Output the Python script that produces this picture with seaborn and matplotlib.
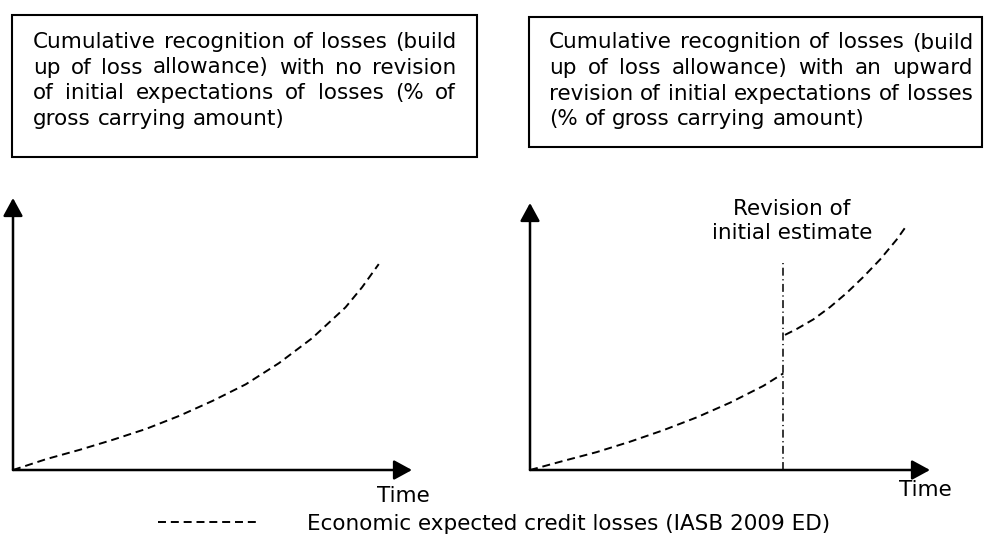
import matplotlib
matplotlib.use("Agg")
import matplotlib.pyplot as plt
import seaborn as sns
from matplotlib.patches import Rectangle

# --- Data ---
time_left = [0, 1, 2, 3, 4, 5, 6, 7, 8, 9, 10, 10.5, 11]
loss_left = [0, 0.4, 0.74, 1.11, 1.51, 1.99, 2.54, 3.15, 3.93, 4.85, 5.98, 6.72, 7.57]

time_before = [0, 1, 2, 3, 4, 5, 6, 7, 7.6]
loss_before = [0, 0.34, 0.67, 1.06, 1.49, 1.97, 2.52, 3.15, 3.62]
time_after = [7.65, 8, 8.5, 9, 9.5, 10, 10.5, 11, 11.25]
loss_after = [5.06, 5.28, 5.64, 6.1, 6.63, 7.23, 7.88, 8.63, 9.07]

revision_time = 7.6
revision_top = 7.74

box_left_lines = [
    "Cumulative recognition of losses (build",
    "up of loss allowance) with no revision",
    "of initial expectations of losses (% of",
    "gross carrying amount)",
]
box_right_lines = [
    "Cumulative recognition of losses (build",
    "up of loss allowance) with an upward",
    "revision of initial expectations of losses",
    "(% of gross carrying amount)",
]
revision_label = "Revision of\ninitial estimate"
x_label = "Time"
legend_label = "Economic expected credit losses (IASB 2009 ED)"

W, H = 984, 540
FS = 15.5
DASHED = (0, (4.1, 2.5))


def px(x, y):
    # pixel position (top-left origin) -> figure fraction
    return x / W, 1 - y / H


def draw_justified(fig, lines, x0, x1, baselines):
    renderer = fig.canvas.get_renderer()
    probe2 = fig.text(0, 0, "a a", fontsize=FS)
    probe1 = fig.text(0, 0, "aa", fontsize=FS)
    space = probe2.get_window_extent(renderer).width - probe1.get_window_extent(renderer).width
    probe1.remove()
    probe2.remove()
    for i, (line, yb) in enumerate(zip(lines, baselines)):
        words = line.split()
        texts = [fig.text(*px(x0, yb), w, fontsize=FS, va="baseline", ha="left") for w in words]
        widths = [t.get_window_extent(renderer).width for t in texts]
        if i == len(lines) - 1 or len(words) == 1:
            gap = space
        else:
            gap = (x1 - x0 - sum(widths)) / (len(words) - 1)
        x = x0
        for t, w in zip(texts, widths):
            t.set_x(x / W)
            x += w + gap


def arrow_axes(ax):
    ax.axis("off")
    props = dict(arrowstyle="-|>,head_length=0.55,head_width=0.3", mutation_scale=20,
                 lw=1.8, color="black", shrinkA=0, shrinkB=0)
    ax.annotate("", xy=(1, 0), xytext=(0, 0), xycoords="axes fraction", arrowprops=props)
    ax.annotate("", xy=(0, 1), xytext=(0, 0), xycoords="axes fraction", arrowprops=props)


sns.set_theme(style="white")
plt.rcParams["font.family"] = ["DejaVu Sans"]
plt.rcParams["text.color"] = "black"

fig = plt.figure(figsize=(W / 100, H / 100), dpi=100)
fig.patch.set_facecolor("white")

# panel axes: origin and arrow tips in pixels
ax_l = fig.add_axes([13 / W, 1 - 470 / H, 399 / W, 272 / H])
ax_r = fig.add_axes([530 / W, 1 - 470 / H, 400 / W, 267 / H])

sns.lineplot(x=time_left, y=loss_left, ax=ax_l, color="black", linewidth=1.4,
             linestyle=DASHED, label=legend_label, legend=False)
sns.lineplot(x=time_before, y=loss_before, ax=ax_r, color="black", linewidth=1.4,
             linestyle=DASHED, legend=False)
sns.lineplot(x=time_after, y=loss_after, ax=ax_r, color="black", linewidth=1.4,
             linestyle=DASHED, legend=False)
ax_r.plot([revision_time, revision_time], [0, revision_top], color="black",
          linewidth=1.1, linestyle=(0, (5.2, 2.3, 0.8, 2.3)))
for ax in (ax_l, ax_r):
    ax.set_xlim(0, 12)
    ax.set_ylim(0, 10)
    arrow_axes(ax)

fig.text(*px(403, 496), x_label, fontsize=FS, ha="center", va="center")
fig.text(*px(925, 490), x_label, fontsize=FS, ha="center", va="center")
fig.text(*px(792, 221), revision_label, fontsize=FS, ha="center", va="center",
         linespacing=1.2)

# text boxes
fig.patches.append(Rectangle(px(12, 157), 465 / W, 142 / H, transform=fig.transFigure,
                             fill=False, edgecolor="black", linewidth=1.5))
fig.patches.append(Rectangle(px(529, 147), 453 / W, 130 / H, transform=fig.transFigure,
                             fill=False, edgecolor="black", linewidth=1.5))
draw_justified(fig, box_left_lines, 33, 456, [48, 73.5, 99, 124.5])
draw_justified(fig, box_right_lines, 549, 973, [48.5, 74, 99.5, 125])

handle = ax_l.get_lines()[0]
fig.legend(handles=[handle], labels=[legend_label], loc="center left",
           bbox_to_anchor=px(158, 524), frameon=False, fontsize=FS,
           handlelength=4.6, handletextpad=2.3, borderpad=0, borderaxespad=0)

fig.savefig("out.png", dpi=100, facecolor="white")
